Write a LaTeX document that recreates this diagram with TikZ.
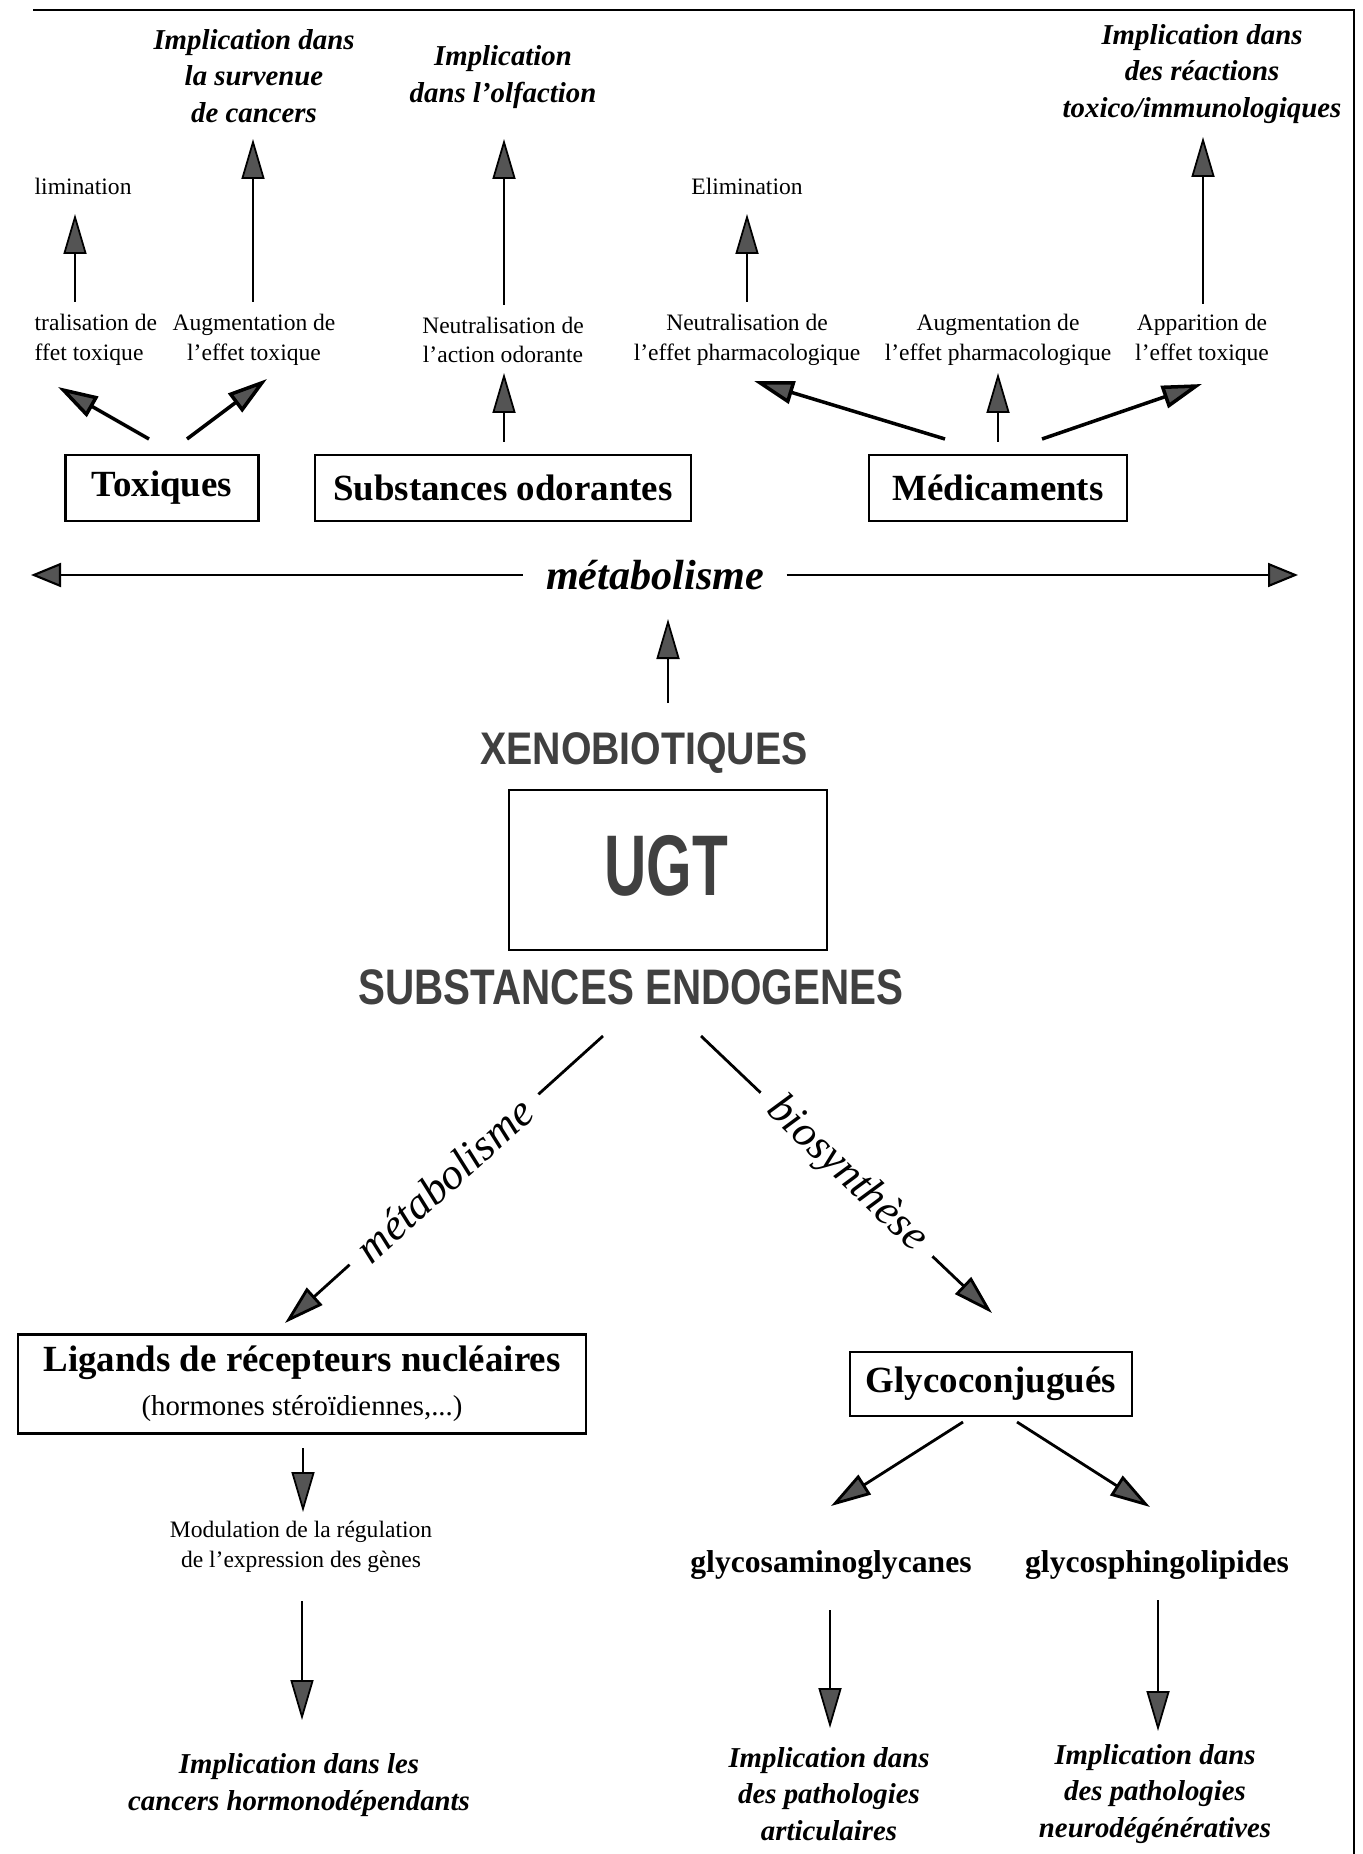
\documentclass[tikz,border=0pt]{standalone}
\usepackage{fontspec}
\setmainfont{Liberation Serif}
\newfontfamily\handfont{Liberation Sans}
\usetikzlibrary{arrows.meta}

\definecolor{headgray}{gray}{0.33}
\definecolor{handgray}{gray}{0.25}

\tikzset{
    >={Triangle[length=4mm,width=2.3mm,fill=headgray]},
    arr/.style={->,line width=0.5pt},
    fatarr/.style={->,line width=1pt},
    box/.style={draw,line width=0.8pt,inner sep=0pt,align=center,
        font=\fontsize{10.5}{12.5}\selectfont\bfseries},
    small/.style={inner sep=0pt,align=center,font=\fontsize{6.7}{8.4}\selectfont},
    impl/.style={inner sep=0pt,align=center,font=\fontsize{8.2}{10.4}\selectfont\bfseries\itshape},
    subst/.style={inner sep=0pt,font=\fontsize{9}{11}\selectfont\bfseries},
    hand/.style={inner sep=0pt,text=handgray},
    diag/.style={sloped,fill=white,inner xsep=1.6mm,inner ysep=0pt,
        font=\fontsize{12.5}{14}\selectfont\itshape},
    metabtip/.tip={Triangle[length=3mm,width=2.4mm,fill=headgray]}
}

\begin{document}
\begin{tikzpicture}
    \useasboundingbox (0,0) rectangle (13.62,-18.54);

    % frame
    \draw [line width=0.8pt] (0.33,-0.10) -- (13.54,-0.10) -- (13.54,-18.54);

    % top effects
    \node [impl] (impCan) at (2.54,-0.76) {Implication dans\\la survenue\\de cancers};
    \node [impl] (impOlf) at (5.03,-0.77) {Implication\\dans l’olfaction};
    \node [impl] (impTox) at (12.02,-0.74) {Implication dans\\des réactions\\toxico/immunologiques};

    \node [small,anchor=west] (elimT) at (0.34,-1.86) {limination};
    \node [small] (elimM) at (7.47,-1.86) {Elimination};

    \node [small,anchor=west,align=left] (neutT) at (0.34,-3.40) {tralisation de\\ffet toxique};
    \node [small] (augT) at (2.54,-3.40) {Augmentation de\\l’effet toxique};
    \node [small] (neutO) at (5.03,-3.40) {Neutralisation de\\l’action odorante};
    \node [small] (neutM) at (7.47,-3.40) {Neutralisation de\\l’effet pharmacologique};
    \node [small] (augM) at (9.98,-3.40) {Augmentation de\\l’effet pharmacologique};
    \node [small] (appM) at (12.02,-3.40) {Apparition de\\l’effet toxique};

    \node [box,minimum width=1.93cm,minimum height=0.66cm] (tox) at (1.62,-4.88) {Toxiques};
    \node [box,minimum width=3.76cm,minimum height=0.66cm] (odor) at (5.03,-4.88) {Substances odorantes};
    \node [box,minimum width=2.58cm,minimum height=0.66cm] (med) at (9.98,-4.88) {Médicaments};

    \node [inner xsep=2.2mm,inner ysep=0pt,font=\fontsize{12}{14}\selectfont\bfseries\itshape] (metab) at (6.55,-5.75) {métabolisme};

    % UGT centre
    \node [hand,font=\handfont\bfseries\addfontfeature{FakeStretch=0.86}\fontsize{13}{15}\selectfont] (xeno) at (6.44,-7.53) {XENOBIOTIQUES};
    \node [draw,line width=0.8pt,minimum width=3.18cm,minimum height=1.60cm] (ugtbox) at (6.68,-8.70) {};
    \node [hand,font=\handfont\bfseries\addfontfeature{FakeStretch=0.68}\fontsize{24.5}{26}\selectfont] (ugt) at (6.66,-8.66) {UGT};
    \node [hand,font=\handfont\bfseries\addfontfeature{FakeStretch=0.81}\fontsize{14.2}{16}\selectfont] (endo) at (6.31,-9.87) {SUBSTANCES ENDOGENES};

    % endogenous side
    \node [box,minimum width=5.68cm,minimum height=0.99cm] (lig) at (3.02,-13.84)
        {Ligands de récepteurs nucléaires\\{\mdseries\fontsize{8.2}{10}\selectfont (hormones stéroïdiennes,...)}};
    \node [small] (modul) at (3.01,-15.47) {Modulation de la régulation\\de l’expression des gènes};
    \node [impl] (impHorm) at (2.99,-17.85) {Implication dans les\\cancers hormonodépendants};

    \node [box,minimum width=2.82cm,minimum height=0.64cm] (glyco) at (9.91,-13.84) {Glycoconjugués};
    \node [subst] (gag) at (8.31,-15.65) {glycosaminoglycanes};
    \node [subst] (gsl) at (11.57,-15.65) {glycosphingolipides};
    \node [impl] (impArt) at (8.29,-17.94) {Implication dans\\des pathologies\\articulaires};
    \node [impl] (impNeuro) at (11.55,-17.94) {Implication dans\\des pathologies\\neurodégénératives};

    % arrow ends
    \coordinate (e1a) at (0.75,-3.02);   \coordinate (e1b) at (0.75,-2.14);
    \coordinate (c1a) at (2.53,-3.02);   \coordinate (c1b) at (2.53,-1.39);
    \coordinate (o1a) at (5.04,-3.05);   \coordinate (o1b) at (5.04,-1.39);
    \coordinate (e2a) at (7.47,-3.02);   \coordinate (e2b) at (7.47,-2.14);
    \coordinate (t1a) at (12.03,-3.04);  \coordinate (t1b) at (12.03,-1.37);
    \coordinate (toxL) at (1.49,-4.39);  \coordinate (toxLb) at (0.58,-3.87);
    \coordinate (toxR) at (1.87,-4.39);  \coordinate (toxRb) at (2.67,-3.79);
    \coordinate (odorU) at (5.04,-4.42); \coordinate (odorUb) at (5.04,-3.73);
    \coordinate (medL) at (9.45,-4.39);  \coordinate (medLb) at (7.54,-3.81);
    \coordinate (medM) at (9.98,-4.42);  \coordinate (medMb) at (9.98,-3.73);
    \coordinate (medR) at (10.42,-4.39); \coordinate (medRb) at (12.02,-3.84);
    \coordinate (metL) at (0.31,-5.75);  \coordinate (metR) at (12.98,-5.75);
    \coordinate (xenoU) at (6.68,-7.03); \coordinate (xenoUb) at (6.68,-6.19);
    \coordinate (endoL) at (6.03,-10.36); \coordinate (endoLb) at (2.85,-13.23);
    \coordinate (endoR) at (7.01,-10.36); \coordinate (endoRb) at (9.92,-13.13);
    \coordinate (ligD) at (3.03,-14.48); \coordinate (ligDb) at (3.03,-15.12);
    \coordinate (modD) at (3.02,-16.01); \coordinate (modDb) at (3.02,-17.20);
    \coordinate (glyL) at (9.63,-14.22); \coordinate (glyLb) at (8.31,-15.06);
    \coordinate (glyR) at (10.17,-14.22); \coordinate (glyRb) at (11.50,-15.07);
    \coordinate (gagD) at (8.30,-16.10); \coordinate (gagDb) at (8.30,-17.28);
    \coordinate (gslD) at (11.58,-16.00); \coordinate (gslDb) at (11.58,-17.31);

    % arrows
    \draw [arr] (e1a) -- (e1b);
    \draw [arr] (c1a) -- (c1b);
    \draw [arr] (o1a) -- (o1b);
    \draw [arr] (e2a) -- (e2b);
    \draw [arr] (t1a) -- (t1b);

    \draw [fatarr] (toxL) -- (toxLb);
    \draw [fatarr] (toxR) -- (toxRb);
    \draw [arr] (odorU) -- (odorUb);
    \draw [fatarr] (medL) -- (medLb);
    \draw [arr] (medM) -- (medMb);
    \draw [fatarr] (medR) -- (medRb);

    \draw [metabtip-,line width=0.6pt] (metL) -- (metab);
    \draw [-metabtip,line width=0.6pt] (metab) -- (metR);
    \draw [arr] (xenoU) -- (xenoUb);

    \draw [arr,line width=0.8pt] (endoL) -- node [diag] {métabolisme} (endoLb);
    \draw [arr,line width=0.8pt] (endoR) -- node [diag] {biosynthèse} (endoRb);

    \draw [arr] (ligD) -- (ligDb);
    \draw [arr] (modD) -- (modDb);
    \draw [fatarr,line width=0.8pt] (glyL) -- (glyLb);
    \draw [fatarr,line width=0.8pt] (glyR) -- (glyRb);
    \draw [arr] (gagD) -- (gagDb);
    \draw [arr] (gslD) -- (gslDb);
\end{tikzpicture}
\end{document}
